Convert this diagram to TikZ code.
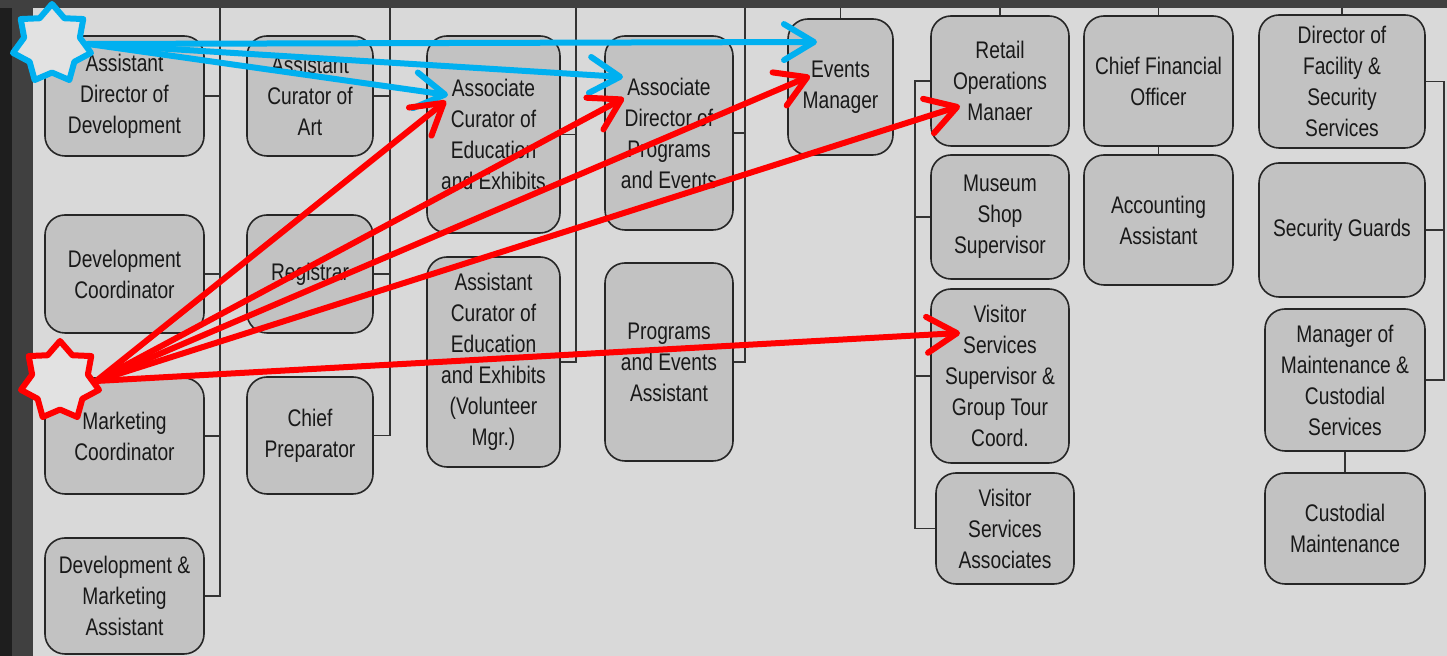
\documentclass[tikz,border=0pt]{standalone}
\usepackage{fontspec}
\setmainfont{Liberation Sans}[FakeStretch=0.8]
\usepackage{tikz}
\usetikzlibrary{positioning,calc,shapes.geometric,arrows.meta}
\definecolor{pagegray}{RGB}{217,217,217}
\definecolor{boxgray}{RGB}{194,194,194}
\definecolor{framedark}{RGB}{64,64,64}
\definecolor{framedeep}{RGB}{30,30,30}
\definecolor{starblue}{RGB}{0,176,240}
\definecolor{starred}{RGB}{255,0,0}
\definecolor{starfill}{RGB}{226,226,226}

\begin{document}
\begin{tikzpicture}[
	x=0.5pt, y=-0.5pt,
	% hop chuc danh
	posbox/.style={
		draw=black!85, fill=boxgray, rounded corners=10pt, line width=0.8pt,
		align=center, inner sep=1pt, text=black!90,
		font=\fontsize{12}{15.5}\selectfont
	},
	% kich thuoc hop (theo pixel)
	sz/.style 2 args={minimum width=#1*0.5pt, minimum height=#2*0.5pt},
	orgline/.style={draw=black!80, line width=0.9pt},
	% ngoi sao 7 canh
	mark7/.style={
		star, star points=7, star point ratio=1.4, minimum size=40pt,
		inner sep=0pt, fill=starfill, line width=3pt, line join=round
	},
	pointer/.style={
		line width=3pt, line cap=round,
		-{Straight Barb[length=15pt, width=18pt, round]}
	}
	]

	% --- 1. KHUNG NEN ---
	\fill[framedark] (0,0) rectangle (1447,656);
	\fill[framedeep] (0,8) rectangle (12,656);
	\fill[pagegray] (33,8) rectangle (1447,656);

	% --- 2. CAC HOP ---
	% cot 1
	\node[posbox, sz={159}{120}] (addev) at (124.5,96) {Assistant\\Director of\\Development};
	\node[posbox, sz={159}{118}] (devco) at (124.5,274) {Development\\Coordinator};
	\node[posbox, sz={159}{116}] (mktco) at (124.5,436) {Marketing\\Coordinator};
	\node[posbox, sz={159}{116}] (dmasst) at (124.5,596) {Development \&\\Marketing\\Assistant};
	% cot 2
	\node[posbox, sz={126}{120}] (acart) at (310,96) {Assistant\\Curator of\\Art};
	\node[posbox, sz={126}{118}] (registrar) at (310,274) {Registrar};
	\node[posbox, sz={126}{117}] (chiefprep) at (310,435.5) {Chief\\Preparator};
	% cot 3
	\node[posbox, sz={133}{197}] (acedu) at (493.5,134.5) {Associate\\Curator of\\Education\\and Exhibits};
	\node[posbox, sz={133}{210}] (asstedu) at (493.5,362) {Assistant\\Curator of\\Education\\and Exhibits\\(Volunteer\\Mgr.)};
	% cot 4
	\node[posbox, sz={128}{194}] (adprog) at (669,133) {Associate\\Director of\\Programs\\and Events};
	\node[posbox, sz={128}{198}] (progasst) at (669,362) {Programs\\and Events\\Assistant};
	% cot 5
	\node[posbox, sz={105}{136}] (evmgr) at (840.5,87) {Events\\Manager};
	% cot 6
	\node[posbox, sz={138}{130}] (retail) at (1000,81) {Retail\\Operations\\Manaer};
	\node[posbox, sz={138}{124}] (shop) at (1000,217) {Museum\\Shop\\Supervisor};
	\node[posbox, sz={138}{174}] (vissup) at (1000,376) {Visitor\\Services\\Supervisor \&\\Group Tour\\Coord.};
	\node[posbox, sz={138}{111}] (visassoc) at (1005,528.5) {Visitor\\Services\\Associates};
	% cot 7
	\node[posbox, sz={149}{130}] (cfo) at (1158.5,81) {Chief Financial\\Officer};
	\node[posbox, sz={149}{130}] (acct) at (1158.5,220) {Accounting\\Assistant};
	% cot 8
	\node[posbox, sz={166}{133}] (dirfac) at (1342,81.5) {Director of\\Facility \&\\Security\\Services};
	\node[posbox, sz={166}{134}] (guards) at (1342,230) {Security Guards};
	\node[posbox, sz={160}{142}] (mgrmaint) at (1345,380) {Manager of\\Maintenance \&\\Custodial\\Services};
	\node[posbox, sz={160}{111}] (custmaint) at (1345,528.5) {Custodial\\Maintenance};

	% --- 3. DUONG NOI ---
	\coordinate (c1top) at (220,8);
	\coordinate (c2top) at (390,8);
	\coordinate (c3top) at (576,8);
	\coordinate (c4top) at (745,8);

	\draw[orgline] (c1top) |- (dmasst.east);
	\foreach \n in {addev,devco,mktco}
		\draw[orgline] (\n.east) -- (\n.east -| c1top);
	\draw[orgline] (c2top) |- (chiefprep.east);
	\foreach \n in {acart,registrar}
		\draw[orgline] (\n.east) -- (\n.east -| c2top);
	\draw[orgline] (c3top) |- (asstedu.east);
	\draw[orgline] (acedu.east) -- (acedu.east -| c3top);
	\draw[orgline] (c4top) |- (progasst.east);
	\draw[orgline] (adprog.east) -- (adprog.east -| c4top);

	\foreach \n in {evmgr,retail,cfo,dirfac}
		\draw[orgline] (\n.north) -- (\n.north |- c1top);

	\draw[orgline] (retail.west) -- ++(-15,0) |- (visassoc.west);
	\foreach \n in {shop,vissup}
		\draw[orgline] (\n.west) -- ++(-15,0);
	\draw[orgline] (cfo) -- (acct);
	\draw[orgline] (dirfac.east) -- ++(18,0) |- (mgrmaint.east);
	\draw[orgline] (guards.east) -- ++(18,0);
	\draw[orgline] (mgrmaint) -- (custmaint);

	% --- 4. NGOI SAO ---
	\node[mark7, draw=starblue] (bluestar) at (52,44) {};
	\node[mark7, draw=starred] (redstar) at (60,381) {};

	% --- 5. MUI TEN ---
	\coordinate (bEv) at (817,42);
	\coordinate (bAdp) at (623,77);
	\coordinate (bAce) at (448,95);
	\coordinate (rAce) at (446,101);
	\coordinate (rAdp) at (624,98);
	\coordinate (rEv) at (810,76);
	\coordinate (rRet) at (960,106);
	\coordinate (rVis) at (960,333);

	\foreach \t in {bEv,bAdp,bAce}
		\draw[pointer, starblue] (bluestar.east) -- (\t);
	\foreach \t in {rAce,rAdp,rEv,rRet,rVis}
		\draw[pointer, starred] (redstar.east) -- (\t);
\end{tikzpicture}
\end{document}
